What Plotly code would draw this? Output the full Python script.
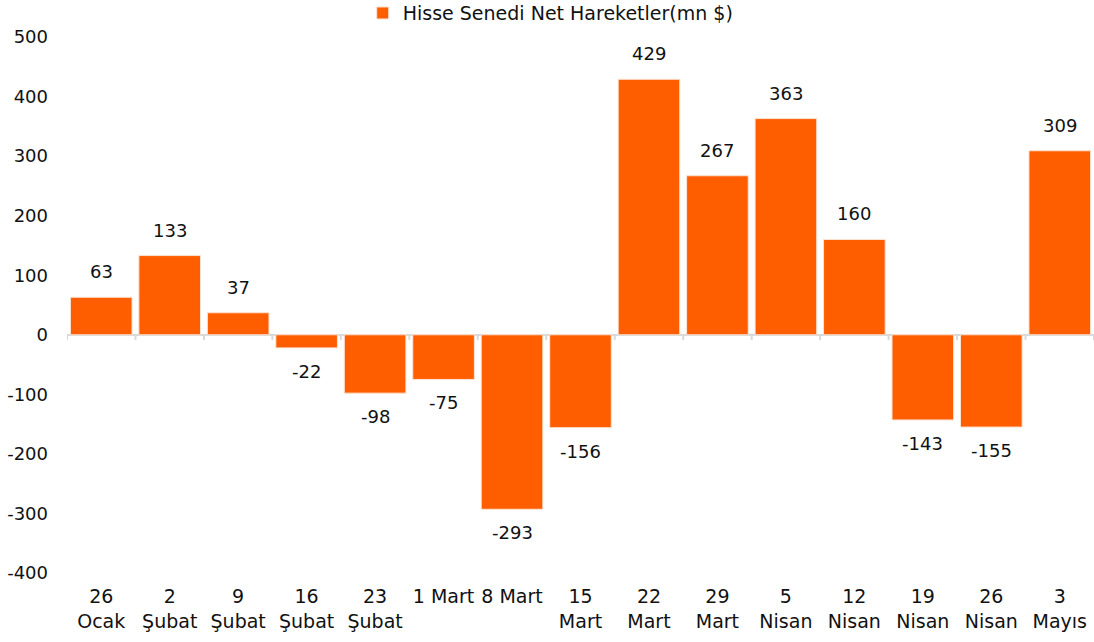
import plotly.graph_objects as go

categories = ["26<br>Ocak", "2<br>Şubat", "9<br>Şubat", "16<br>Şubat", "23<br>Şubat",
              "1 Mart", "8 Mart", "15<br>Mart", "22<br>Mart", "29<br>Mart",
              "5<br>Nisan", "12<br>Nisan", "19<br>Nisan", "26<br>Nisan", "3<br>Mayıs"]
values = [63, 133, 37, -22, -98, -75, -293, -156, 429, 267, 363, 160, -143, -155, 309]
series_name = "Hisse Senedi Net Hareketler(mn $)"
y_ticks = [500, 400, 300, 200, 100, 0, -100, -200, -300, -400]

ORANGE = "#FF5E00"
FONT = "DejaVu Sans"
FS_NUM = 18
FS_TXT = 19

fig = go.Figure()
fig.add_trace(go.Bar(
    x=list(range(len(categories))), y=values, name=series_name,
    marker=dict(color=ORANGE, line=dict(color="#FCE3D3", width=1)),
    showlegend=True,
))

for i, v in enumerate(values):
    fig.add_annotation(x=i, y=v, xref="x", yref="y", text=str(v), showarrow=False,
                       yanchor="bottom" if v >= 0 else "top",
                       yshift=13 if v >= 0 else -11,
                       font=dict(family=FONT, size=FS_NUM, color="#111111"))

shapes = []
for i in range(len(categories) + 1):
    shapes.append(dict(type="line", xref="x", yref="y", x0=i - 0.5, x1=i - 0.5,
                       y0=0, y1=-9, line=dict(color="#D9D9D9", width=2)))

fig.update_layout(
    width=1094, height=642,
    margin=dict(l=67, r=0, t=37, b=69, autoexpand=False),
    paper_bgcolor="white", plot_bgcolor="white",
    font=dict(family=FONT, size=FS_TXT, color="#111111"),
    bargap=0.1,
    shapes=shapes,
    legend=dict(orientation="h", x=0.471, xanchor="center", y=1.08, yanchor="top",
                font=dict(family=FONT, size=FS_TXT), itemwidth=30,
                bgcolor="rgba(0,0,0,0)"),
    xaxis=dict(tickmode="array", tickvals=list(range(len(categories))), ticktext=categories,
               range=[-0.5, len(categories) - 0.5], showline=False, showgrid=False,
               zeroline=False, ticks="", automargin=False, ticklabelstandoff=10,
               tickfont=dict(family=FONT, size=FS_TXT)),
    yaxis=dict(range=[-400, 500], tickmode="array", tickvals=y_ticks,
               ticktext=[str(t) for t in y_ticks], showgrid=False, showline=False,
               zeroline=True, zerolinecolor="#D9D9D9", zerolinewidth=2,
               ticks="", automargin=False, ticklabelstandoff=18,
               tickfont=dict(family=FONT, size=FS_NUM)),
)

fig.write_html("out.html", config={"displayModeBar": False},
               post_script="document.body.style.margin='0';")
